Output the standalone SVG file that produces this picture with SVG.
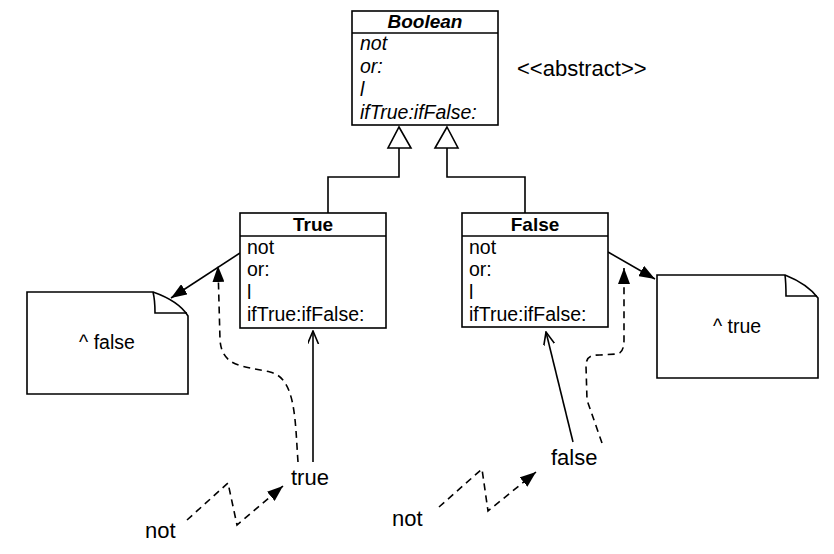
<svg xmlns="http://www.w3.org/2000/svg" width="834" height="554" viewBox="0 0 834 554">
<style>
.box{fill:#fff;stroke:#000;stroke-width:1.6}
.ln{fill:none;stroke:#000;stroke-width:1.6}
.dash{fill:none;stroke:#000;stroke-width:1.6;stroke-dasharray:7 5}
text{font-family:"Liberation Sans",Arial,sans-serif;fill:#000}
.t{font-size:19.5px}
.ti{font-size:19.5px;font-style:italic}
.h{font-size:19px;font-weight:bold;text-anchor:middle}
.lbl{font-size:22px}
</style>
<defs>
<marker id="fill" markerUnits="userSpaceOnUse" markerWidth="16" markerHeight="12" refX="16" refY="6" orient="auto"><path d="M0,0 L16,6 L0,12 z" fill="#000"/></marker>
<marker id="open" markerUnits="userSpaceOnUse" markerWidth="14" markerHeight="12" refX="13" refY="5.5" orient="auto"><path d="M0,0 L13,5.5 L0,11" fill="none" stroke="#000" stroke-width="1.6"/></marker>
</defs>
<rect width="834" height="554" fill="#fff"/>
<g id="connectors">
<polyline class="ln" points="399,148 399,177 328,177 328,213"/>
<polyline class="ln" points="447,148 447,177 525,177 525,213"/>
<path class="box" d="M399,127 L411,148 L388,148 Z"/>
<path class="box" d="M447,127 L458,148 L435,148 Z"/>
<line class="ln" x1="240" y1="253" x2="171" y2="298" marker-end="url(#fill)"/>
<line class="ln" x1="608" y1="252" x2="655" y2="279" marker-end="url(#fill)"/>
<path class="dash" d="M298,462 C295,420 296,378 270,372 C245,366 222,368 220,340 L218,266" marker-end="url(#fill)"/>
<line class="ln" x1="313" y1="462" x2="313" y2="331" marker-end="url(#open)"/>
<path class="dash" d="M602,443 L587,400 L586,366 C586,356 592,355 600,355 L616,354 C622,354 624,348 624,340 L624,268" marker-end="url(#fill)"/>
<line class="ln" x1="573" y1="442" x2="546" y2="332" marker-end="url(#open)"/>
<polyline class="dash" points="187,520 228,483 237,525 283,486" marker-end="url(#fill)"/>
<polyline class="dash" points="439,507 482,469 488,511 536,472" marker-end="url(#fill)"/>
</g>
<g id="Boolean">
<rect class="box" x="352" y="11" width="146" height="114"/>
<line class="ln" x1="352" y1="33" x2="498" y2="33"/>
<text class="h" x="425" y="28" font-style="italic">Boolean</text>
<text class="ti" x="360" y="50">not</text>
<text class="ti" x="360" y="73">or:</text>
<text class="ti" x="360" y="96">l</text>
<text class="ti" x="360" y="119">ifTrue:ifFalse:</text>
</g>
<g id="abstract"><text class="lbl" x="517" y="76" font-size="22.5">&lt;&lt;abstract&gt;&gt;</text></g>
<g id="True">
<rect class="box" x="240" y="213" width="146" height="115"/>
<line class="ln" x1="240" y1="236" x2="386" y2="236"/>
<text class="h" x="313" y="231">True</text>
<text class="t" x="247" y="254">not</text>
<text class="t" x="247" y="276">or:</text>
<text class="t" x="247" y="299">l</text>
<text class="t" x="247" y="321">ifTrue:ifFalse:</text>
</g>
<g id="False">
<rect class="box" x="462" y="213" width="146" height="114"/>
<line class="ln" x1="462" y1="236" x2="608" y2="236"/>
<text class="h" x="535" y="231">False</text>
<text class="t" x="469" y="254">not</text>
<text class="t" x="469" y="276">or:</text>
<text class="t" x="469" y="299">l</text>
<text class="t" x="469" y="321">ifTrue:ifFalse:</text>
</g>
<g id="noteFalse">
<path class="box" d="M27,292 H153 C170,298 182,306 188,316 V394 H27 Z"/>
<path class="ln" d="M153,292 C155,300 155,306 155,313 H187"/>
<text class="t" x="107" y="349" text-anchor="middle">^ false</text>
</g>
<g id="noteTrue">
<path class="box" d="M657,275 H785 C800,281 812,290 818,298 V378 H657 Z"/>
<path class="ln" d="M785,275 C786,283 786,290 786,296 H817"/>
<text class="t" x="737" y="333" text-anchor="middle">^ true</text>
</g>
<g id="trueLabel"><text class="lbl" x="291" y="485">true</text></g>
<g id="falseLabel"><text class="lbl" x="551" y="465">false</text></g>
<g id="notLeft"><text class="lbl" x="145" y="538">not</text></g>
<g id="notRight"><text class="lbl" x="392" y="526">not</text></g>
</svg>
